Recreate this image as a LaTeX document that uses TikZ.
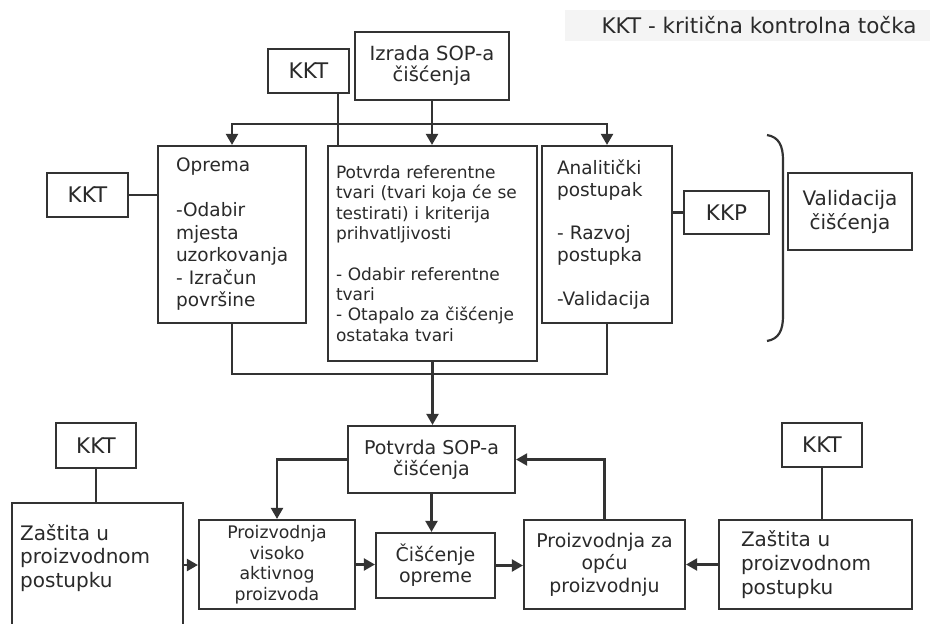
\documentclass[tikz,border=0pt]{standalone}
\usepackage{fontspec}
\setmainfont{DejaVu Sans}
\usetikzlibrary{arrows.meta,calc}
\definecolor{ln}{HTML}{333333}
\definecolor{tx}{HTML}{2A2A2A}
\definecolor{legbg}{HTML}{F4F4F4}
\newcommand\fsz[2]{\fontsize{#1}{#2}\selectfont\hyphenpenalty=10000\exhyphenpenalty=10000 }
\begin{document}
\begin{tikzpicture}[x=1pt,y=-1pt,
  box/.style={draw=ln, line width=2.2pt, inner sep=0pt, text=tx, align=center},
  lbox/.style={draw=ln, line width=2.2pt, inner ysep=0pt, text=tx, align=left},
  conn/.style={draw=ln, line width=2.2pt},
  arr/.style={conn, -{Triangle[length=11pt,width=12pt]}},
  kkt/.style={box, minimum width=81pt, minimum height=44pt, font=\fsz{21.5}{24}},
]
\useasboundingbox (0,0) rectangle (933,623);
\fill[white] (0,0) rectangle (933,623);
\clip (0,0) rectangle (933,623);

% legend
\fill[legbg] (565,10) rectangle (930,41);
\node[text=tx, font=\fsz{21.5}{24}, inner sep=0pt] (leg) at (759,25.5) {KKT - kritična kontrolna točka};

% top
\node[box, minimum width=154pt, minimum height=68pt, font=\fsz{19.5}{21}] (izr) at (432,66) {Izrada SOP-a\\čišćenja};
\node[kkt] (kkt1) at (308.5,71) {KKT};

\node[lbox, text width=112pt, inner xsep=18pt, minimum height=177pt, font=\fsz{18.5}{22.5}] (oprema) at (232,234.5)
  {Oprema\\[22.5pt]-Odabir\\mjesta\\uzorkovanja\\- Izračun\\površine};
\node[kkt] (kkt2) at (87.5,195) {KKT};

\node[lbox, text width=193pt, inner xsep=8pt, minimum height=215pt, font=\fsz{17}{20.3}] (pref) at (432.5,253.5)
  {Potvrda referentne\\tvari (tvari koja će se\\testirati) i kriterija\\prihvatljivosti\\[20.3pt]- Odabir referentne\\tvari\\- Otapalo za čišćenje\\ostataka tvari};

\node[lbox, text width=100pt, inner xsep=15pt, minimum height=177pt, font=\fsz{18.5}{21.7}] (anal) at (607,234.5)
  {Analitički\\postupak\\[22pt]- Razvoj\\postupka\\[22pt]-Validacija};
\node[kkt, minimum width=85pt, minimum height=43pt] (kkp) at (726.5,212.5) {KKP};

\node[box, minimum width=124pt, minimum height=77pt, font=\fsz{20}{24}] (val) at (850,211.5) {Validacija\\čišćenja};

\draw[conn] (767,135) .. controls (779,137) and (783,146) .. (783,160) -- (783,316) .. controls (783,330) and (779,339) .. (767,341);

% bottom
\node[box, minimum width=167pt, minimum height=67pt, font=\fsz{19}{21}] (psop) at (431.5,459.5) {Potvrda SOP-a\\čišćenja};
\node[box, minimum width=156pt, minimum height=89pt, font=\fsz{17.3}{20.5}] (pvis) at (277,564.5) {Proizvodnja\\visoko\\aktivnog\\proizvoda};
\node[box, minimum width=119pt, minimum height=65pt, font=\fsz{19}{21}] (cis) at (435.5,565.5) {Čišćenje\\opreme};
\node[box, minimum width=161pt, minimum height=89pt, font=\fsz{18.9}{22.5}] (pop) at (604.5,564.5) {Proizvodnja za\\opću\\proizvodnju};
\node[lbox, text width=149pt, inner xsep=22pt, minimum height=89pt, font=\fsz{20}{24}] (zr) at (815.5,564.5) {Zaštita u\\proizvodnom\\postupku};
\node[box, minimum width=171pt, minimum height=124pt] (zl) at (97.5,565) {};
\node[anchor=north west, inner sep=0pt, align=left, text=tx, font=\fsz{20}{23.5}] (zltext) at (20,524) {Zaštita u\\proizvodnom\\postupku};
\node[kkt, minimum width=80pt, minimum height=45pt] (kkt3) at (96,445.5) {KKT};
\node[kkt, minimum width=80pt, minimum height=44pt] (kkt4) at (822,445) {KKT};

% connectors
\coordinate (split) at (432,124);
\coordinate (join) at (432,374);
\coordinate (k1) at ([xshift=-12pt]kkt1.south east);
\draw[arr] (izr.south) -- (izr.south |- pref.north);
\draw[arr] (split) -| (oprema.north);
\draw[arr] (split) -| (anal.north);
\draw[conn] (k1) -- (k1 |- pref.north);
\draw[conn] (kkt2.east) -- (kkt2.east -| oprema.west);
\draw[conn] (anal.east |- kkp.west) -- (kkp.west);
\draw[conn] (oprema.south) |- (join) -| (anal.south);
\draw[arr] (pref.south) -- (pref.south |- psop.north);
\draw[arr] (psop.west) -| (pvis.north);
\draw[arr] (psop.south) -- (psop.south |- cis.north);
\draw[arr] (pvis.east) -- (pvis.east -| cis.west);
\draw[arr] (cis.east) -- (cis.east -| pop.west);
\draw[arr] (pop.north) |- (psop.east);
\draw[arr] (zr.west) -- (zr.west -| pop.east);
\draw[arr] (zl.east) -- (zl.east -| pvis.west);
\draw[conn] (kkt3.south) -- (kkt3.south |- zl.north);
\draw[conn] (kkt4.south) -- (kkt4.south |- zr.north);
\end{tikzpicture}
\end{document}
